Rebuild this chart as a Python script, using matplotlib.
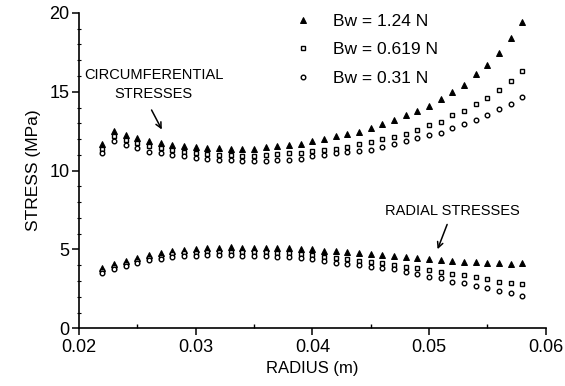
import numpy as np
import matplotlib
matplotlib.use("Agg")
import matplotlib.pyplot as plt
from matplotlib.ticker import MultipleLocator

plt.rcParams["font.family"] = ["Liberation Sans", "DejaVu Sans"]

radius = np.round(np.arange(22, 59) * 0.001, 3)

# circumferential stresses (MPa)
circ_124 = [11.7, 12.5, 12.25, 12.05, 11.9, 11.75, 11.63, 11.55, 11.48, 11.43, 11.42, 11.36,
            11.4, 11.4, 11.48, 11.55, 11.6, 11.7, 11.85, 12.0, 12.17, 12.3, 12.45, 12.7,
            12.95, 13.2, 13.5, 13.8, 14.1, 14.55, 14.96, 15.45, 16.1, 16.7, 17.46, 18.4, 19.4]
circ_0619 = [11.36, 12.17, 11.91, 11.74, 11.53, 11.43, 11.3, 11.2, 11.12, 11.06, 11.02, 10.98,
             10.95, 10.95, 11.0, 11.05, 11.1, 11.12, 11.25, 11.3, 11.4, 11.5, 11.7, 11.8,
             12.0, 12.1, 12.3, 12.6, 12.9, 13.1, 13.5, 13.8, 14.2, 14.6, 15.1, 15.7, 16.3]
circ_031 = [11.1, 11.85, 11.6, 11.43, 11.2, 11.1, 10.98, 10.9, 10.82, 10.75, 10.7, 10.65,
            10.6, 10.6, 10.62, 10.65, 10.7, 10.75, 10.95, 11.0, 11.1, 11.17, 11.25, 11.3,
            11.47, 11.7, 11.85, 12.06, 12.27, 12.4, 12.7, 12.95, 13.2, 13.5, 13.9, 14.2, 14.67]

# radial stresses (MPa)
rad_124 = [3.8, 4.08, 4.27, 4.48, 4.63, 4.78, 4.89, 4.95, 5.0, 5.08, 5.1, 5.13,
           5.12, 5.12, 5.1, 5.08, 5.08, 5.05, 5.03, 4.93, 4.89, 4.82, 4.76, 4.72,
           4.65, 4.59, 4.55, 4.44, 4.38, 4.34, 4.27, 4.19, 4.19, 4.13, 4.13, 4.08, 4.17]
rad_0619 = [3.64, 3.87, 4.08, 4.27, 4.44, 4.55, 4.68, 4.76, 4.8, 4.83, 4.85, 4.87,
            4.87, 4.84, 4.82, 4.8, 4.76, 4.72, 4.65, 4.55, 4.44, 4.38, 4.29, 4.19,
            4.13, 4.02, 3.91, 3.8, 3.7, 3.6, 3.45, 3.38, 3.23, 3.1, 2.96, 2.9, 2.79]
rad_031 = [3.53, 3.74, 3.95, 4.15, 4.3, 4.38, 4.5, 4.57, 4.6, 4.63, 4.65, 4.63,
           4.61, 4.59, 4.57, 4.55, 4.5, 4.44, 4.38, 4.25, 4.17, 4.08, 4.02, 3.91,
           3.8, 3.74, 3.55, 3.43, 3.28, 3.17, 2.96, 2.9, 2.69, 2.54, 2.39, 2.22, 2.07]

labels = ["Bw = 1.24 N", "Bw = 0.619 N", "Bw = 0.31 N"]
xticks = [0.02, 0.03, 0.04, 0.05, 0.06]
xticklabels = ["0.02", "0.03", "0.04", "0.05", "0.06"]

fig = plt.figure(figsize=(5.65, 3.86), dpi=100)
ax = fig.add_axes([0.14, 0.1495, 0.826, 0.817])

tri = dict(marker="^", ms=4.0, color="black", ls="none", mec="black", mew=0.7)
sq = dict(marker="s", ms=3.3, mfc="white", mec="black", mew=1.0, ls="none")
circ = dict(marker="o", ms=3.3, mfc="white", mec="black", mew=1.0, ls="none")

h1, = ax.plot(radius, circ_124, **tri)
h2, = ax.plot(radius, circ_0619, **sq)
h3, = ax.plot(radius, circ_031, **circ)
ax.plot(radius, rad_124, **tri)
ax.plot(radius, rad_0619, **sq)
ax.plot(radius, rad_031, **circ)

ax.set_xlim(0.02, 0.06)
ax.set_ylim(0, 20)
ax.set_xticks(xticks)
ax.set_xticklabels(xticklabels)
ax.xaxis.set_minor_locator(MultipleLocator(0.005))
ax.yaxis.set_major_locator(MultipleLocator(5))
ax.yaxis.set_minor_locator(MultipleLocator(1))

for s in ("top", "right"):
    ax.spines[s].set_visible(False)
for s in ("left", "bottom"):
    ax.spines[s].set_linewidth(1.2)

ax.tick_params(axis="both", which="major", direction="out", length=5, width=1.1, labelsize=13)
ax.tick_params(axis="x", which="major", pad=3)
ax.tick_params(axis="y", which="major", pad=2)
ax.tick_params(axis="x", which="minor", direction="in", length=3, width=1)
ax.tick_params(axis="y", which="minor", direction="inout", length=3, width=0.8)

ax.set_xlabel("RADIUS (m)", fontsize=12, labelpad=3)
ax.set_ylabel("STRESS (MPa)", fontsize=12.5, labelpad=6)

ax.legend([h1, h2, h3], labels, loc="upper left", bbox_to_anchor=(0.447, 1.02),
          frameon=False, fontsize=12.5, handlelength=1.0, handletextpad=1.2,
          labelspacing=0.78, borderaxespad=0)

ax.text(0.0264, 15.45, "CIRCUMFERENTIAL\nSTRESSES", ha="center", va="center",
        fontsize=10.5, linespacing=1.4)
ax.annotate("", xy=(0.0272, 12.45), xytext=(0.0261, 14.0),
            arrowprops=dict(arrowstyle="->", color="black", lw=1.1))

ax.text(0.0520, 7.47, "RADIAL STRESSES", ha="center", va="center", fontsize=10.5)
ax.annotate("", xy=(0.05064, 4.85), xytext=(0.05163, 6.75),
            arrowprops=dict(arrowstyle="->", color="black", lw=1.1))

fig.savefig("out.png", dpi=100)
